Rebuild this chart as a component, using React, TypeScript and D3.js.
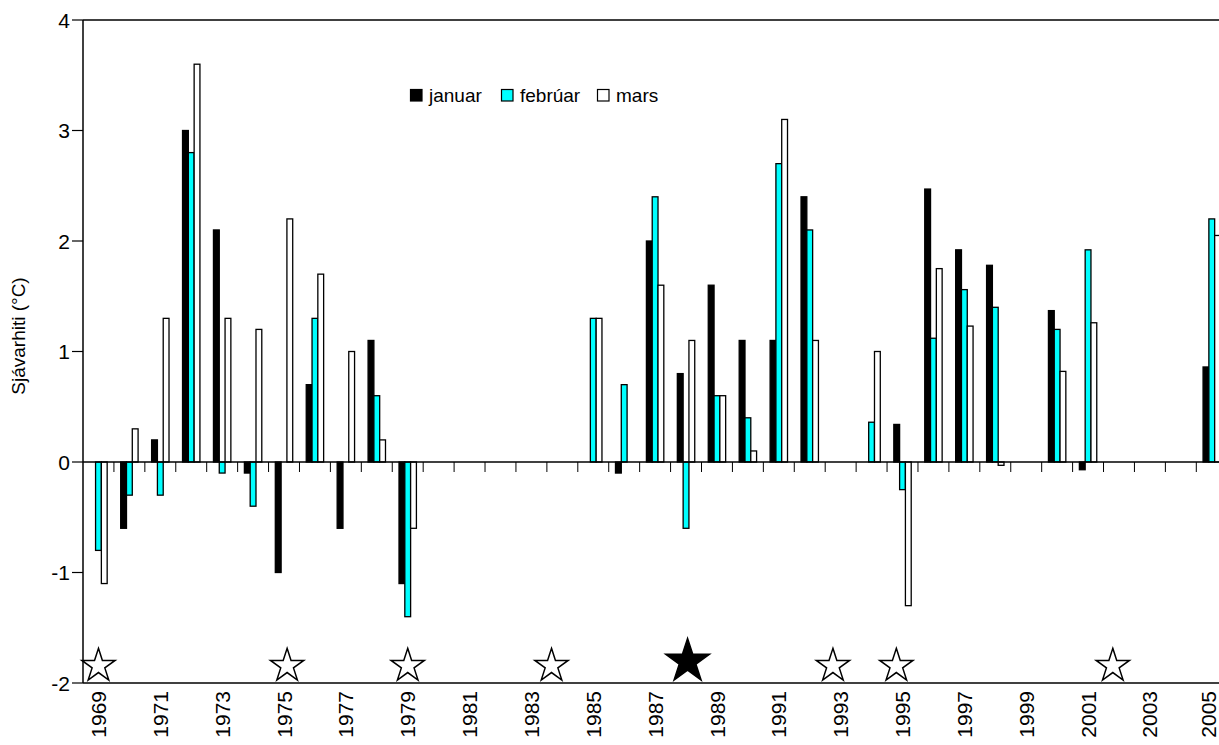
import React from "react";
import * as d3 from "d3";

// Monthly sea temperature anomalies (°C), 1969–2005
const years: number[] = d3.range(1969, 2006);

const januar: (number | null)[] = [
  null, -0.6, 0.2, 3.0, 2.1, -0.1, -1.0, 0.7, -0.6, 1.1, -1.1,
  null, null, null, null, null, null, -0.1, 2.0, 0.8, 1.6, 1.1,
  1.1, 2.4, null, null, 0.34, 2.47, 1.92, 1.78, null, 1.37, -0.07,
  null, null, null, 0.86,
];

const februar: (number | null)[] = [
  -0.8, -0.3, -0.3, 2.8, -0.1, -0.4, null, 1.3, null, 0.6, -1.4,
  null, null, null, null, null, 1.3, 0.7, 2.4, -0.6, 0.6, 0.4,
  2.7, 2.1, null, 0.36, -0.25, 1.12, 1.56, 1.4, null, 1.2, 1.92,
  null, null, null, 2.2,
];

const mars: (number | null)[] = [
  -1.1, 0.3, 1.3, 3.6, 1.3, 1.2, 2.2, 1.7, 1.0, 0.2, -0.6,
  null, null, null, null, null, 1.3, null, 1.6, 1.1, 0.6, 0.1,
  3.1, 1.1, null, 1.0, -1.3, 1.75, 1.23, -0.03, null, 0.82, 1.26,
  null, null, null, 2.05,
];

const seriesNames: string[] = ["januar", "febrúar", "mars"];
const seriesColors: string[] = ["#000000", "#00FFFF", "#FFFFFF"];

// Event markers along the bottom of the chart (year position, filled or not)
const starYears: number[] = [1969, 1975.1, 1979, 1983.65, 1988.05, 1992.75, 1994.8, 2001.8];
const starFilled: boolean[] = [false, false, false, false, true, false, false, false];

const yTicks: number[] = [-2, -1, 0, 1, 2, 3, 4];
const xTickLabels: number[] = years.filter((y) => (y - 1969) % 2 === 0);

const W = 1219;
const H = 745;
const FONT = "'Liberation Sans', Arial, Helvetica, sans-serif";

function starPath(cx: number, cy: number, R: number): string {
  const r = R * 0.382;
  const pts: [number, number][] = [];
  for (let i = 0; i < 10; i++) {
    const rad = i % 2 === 0 ? R : r;
    const a = -Math.PI / 2 + (i * Math.PI) / 5;
    pts.push([cx + rad * Math.cos(a), cy + rad * Math.sin(a)]);
  }
  return d3.line()(pts) + "Z";
}

export default function App() {
  const left = 83;
  const bandW = 30.925;
  const right = left + years.length * bandW;
  const top = 20;
  const bottom = 683;

  const x = d3.scaleBand<number>().domain(years).range([left, right]).padding(0);
  const xYear = d3.scaleLinear().domain([1968.5, 2005.5]).range([left, right]);
  const y = d3.scaleLinear().domain([-2, 4]).range([bottom, top]);

  const barW = 5.8;
  const series = [januar, februar, mars];
  const bars: { key: string; x: number; y: number; h: number; fill: string }[] = [];
  series.forEach((vals, si) => {
    vals.forEach((v, i) => {
      if (v === null) return;
      const yr = years[i];
      const cx = (x(yr) as number) + x.bandwidth() / 2;
      const bx = cx - 1.5 * barW + si * barW;
      const y0 = y(0);
      const y1 = y(v);
      bars.push({
        key: `${si}-${yr}`,
        x: bx,
        y: Math.min(y0, y1),
        h: Math.abs(y1 - y0),
        fill: seriesColors[si],
      });
    });
  });

  const boundaries = d3.range(1, years.length + 1).map((i) => left + i * bandW);

  const legendX = [410, 501, 597];

  return (
    <svg
      width={W}
      height={H}
      style={{ position: "absolute", left: 0, top: 0, background: "#fff" }}
      fontFamily={FONT}
    >
      <rect x={0} y={0} width={W} height={H} fill="#fff" />

      {/* plot frame */}
      <line x1={left} x2={right + 1} y1={top} y2={top} stroke="#000" strokeWidth={1.5} />
      <line x1={left} x2={right + 1} y1={bottom} y2={bottom} stroke="#000" strokeWidth={1.5} />
      <line x1={right} x2={right} y1={top} y2={bottom} stroke="#000" strokeWidth={1.5} />
      <line x1={left} x2={left} y1={top} y2={bottom} stroke="#000" strokeWidth={1.5} />

      {/* y axis ticks and labels */}
      {yTicks.map((t) => (
        <g key={t}>
          <line x1={left - 11} x2={left} y1={y(t)} y2={y(t)} stroke="#000" strokeWidth={1.2} />
          <text
            x={left - 13}
            y={y(t)}
            dy="0.36em"
            textAnchor="end"
            fontSize={21}
            fill="#000"
          >
            {t}
          </text>
        </g>
      ))}

      <text
        transform={`translate(25, 336) rotate(-90)`}
        textAnchor="middle"
        fontSize={19}
        fill="#000"
      >
        Sjávarhiti (°C)
      </text>

      {/* bars */}
      {bars.map((b) => (
        <rect
          key={b.key}
          x={b.x}
          y={b.y}
          width={barW}
          height={Math.max(b.h, 0.5)}
          fill={b.fill}
          stroke="#000"
          strokeWidth={1.3}
        />
      ))}

      {/* zero line with category ticks */}
      <line x1={left} x2={right} y1={y(0)} y2={y(0)} stroke="#000" strokeWidth={1.5} />
      {boundaries.map((bx, i) => (
        <line key={i} x1={bx} x2={bx} y1={y(0)} y2={y(0) + 10} stroke="#000" strokeWidth={1} />
      ))}

      {/* x labels */}
      {xTickLabels.map((yr) => {
        const cx = (x(yr) as number) + x.bandwidth() / 2;
        return (
          <text
            key={yr}
            transform={`translate(${Math.min(cx, W - 11)}, ${bottom + 8}) rotate(-90)`}
            dy="0.36em"
            textAnchor="end"
            fontSize={21}
            fill="#000"
          >
            {yr}
          </text>
        );
      })}

      {/* event stars */}
      {starYears.map((sy, i) => {
        const R = starFilled[i] ? 23 : 17.5;
        const cy = bottom - 3 - R * Math.cos(Math.PI / 5);
        return (
          <path
            key={i}
            d={starPath(xYear(sy), cy, R)}
            fill={starFilled[i] ? "#000" : "#fff"}
            stroke="#000"
            strokeWidth={1.5}
            strokeLinejoin="miter"
          />
        );
      })}

      {/* legend */}
      {seriesNames.map((name, i) => (
        <g key={name} transform={`translate(${legendX[i]}, 89)`}>
          <rect x={0.5} y={0.5} width={11.5} height={11.5} fill={seriesColors[i]} stroke="#000" strokeWidth={1.2} />
          <text x={19} y={12.5} fontSize={19} fill="#000">
            {name}
          </text>
        </g>
      ))}
    </svg>
  );
}
